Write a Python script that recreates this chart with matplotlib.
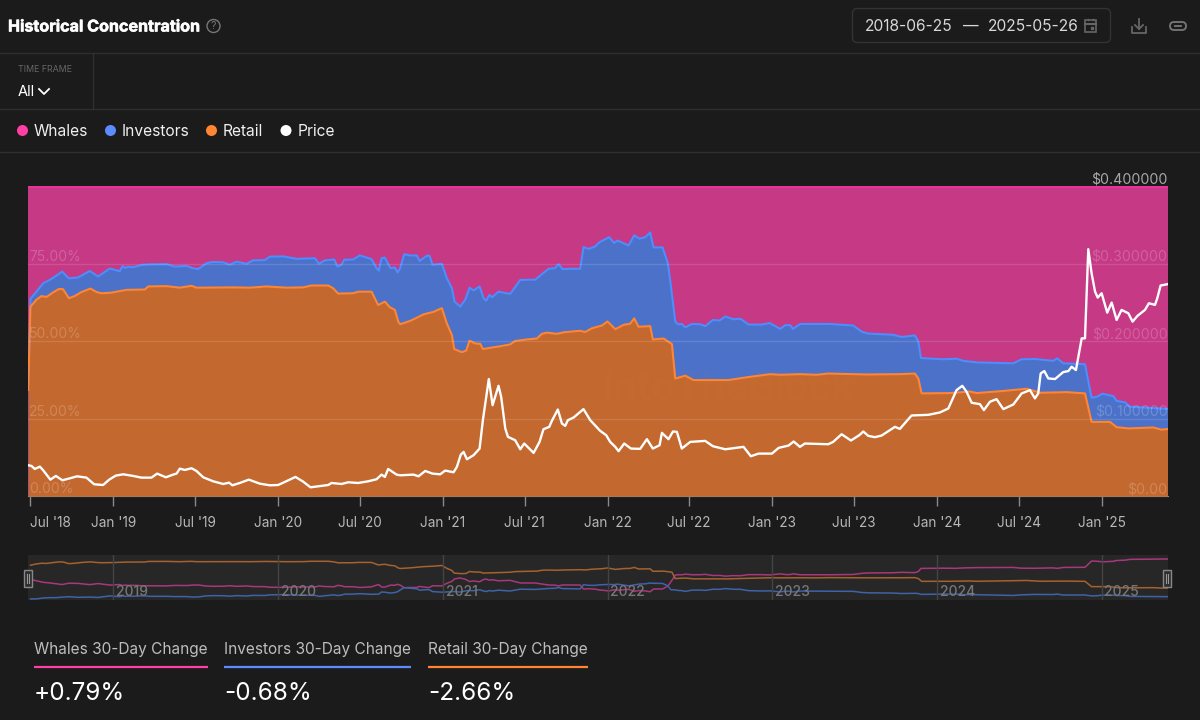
import numpy as np
import matplotlib
matplotlib.use("Agg")
import matplotlib.pyplot as plt
import matplotlib.patheffects as pe
from matplotlib.patches import Circle, FancyBboxPatch, Rectangle

plt.rcParams['font.family'] = ['Inter', 'DejaVu Sans']

# dates are decimal years, shares in percent, price in dollars
retail_year = [2018.482, 2018.496, 2018.532, 2018.563, 2018.593, 2018.634, 2018.670, 2018.694, 2018.729, 2018.765,
               2018.806, 2018.860, 2018.897, 2018.927, 2018.988, 2019.079, 2019.190, 2019.211, 2019.322, 2019.403,
               2019.474, 2019.504, 2019.727, 2019.828, 2019.929, 2020.051, 2020.152, 2020.202, 2020.304, 2020.334,
               2020.364, 2020.455, 2020.486, 2020.567, 2020.607, 2020.648, 2020.678, 2020.709, 2020.729, 2020.741,
               2020.802, 2020.842, 2020.883, 2020.943, 2020.994, 2021.024, 2021.055, 2021.069, 2021.115, 2021.142,
               2021.162, 2021.196, 2021.227, 2021.243, 2021.287, 2021.348, 2021.409, 2021.439, 2021.510, 2021.571,
               2021.601, 2021.632, 2021.692, 2021.733, 2021.834, 2021.864, 2021.905, 2021.966, 2022.000, 2022.047,
               2022.097, 2022.138, 2022.162, 2022.188, 2022.259, 2022.275, 2022.340, 2022.391, 2022.411, 2022.472,
               2022.522, 2022.644, 2022.735, 2022.846, 2022.988, 2023.049, 2023.168, 2023.269, 2023.340, 2023.573,
               2023.775, 2023.866, 2023.887, 2023.907, 2024.079, 2024.200, 2024.241, 2024.383, 2024.545, 2024.626,
               2024.787, 2024.899, 2024.939, 2025.051, 2025.091, 2025.162, 2025.314, 2025.364, 2025.400]
retail_share = [34.2, 61.1, 63.3, 64.5, 64.2, 65.7, 66.8, 66.7, 63.8, 64.5,
                65.8, 66.9, 65.8, 65.4, 65.6, 66.5, 66.6, 67.6, 67.7, 67.2,
                67.8, 67.2, 67.3, 67.2, 67.6, 67.2, 67.3, 67.9, 67.9, 67.0,
                65.3, 65.4, 65.9, 65.9, 61.6, 62.7, 60.9, 60.0, 56.3, 55.4,
                56.5, 57.5, 58.6, 59.4, 60.6, 55.7, 51.9, 47.4, 46.4, 46.9,
                50.1, 49.2, 49.1, 47.4, 47.8, 48.3, 48.9, 50.0, 50.5, 50.8,
                52.3, 52.7, 52.3, 52.8, 53.3, 52.9, 54.1, 55.0, 56.3, 53.8,
                55.2, 55.6, 57.3, 54.6, 54.8, 50.5, 50.8, 49.0, 37.9, 38.8,
                37.4, 37.4, 37.4, 38.3, 39.3, 39.1, 39.3, 39.1, 39.5, 39.2,
                39.3, 39.5, 37.9, 33.1, 33.2, 33.7, 33.2, 33.8, 34.6, 33.3,
                33.5, 33.1, 23.9, 23.9, 22.2, 21.8, 22.1, 21.4, 21.6]

# retail + investors, the boundary with the whales band
stack_year = [2018.482, 2018.496, 2018.532, 2018.573, 2018.613, 2018.654, 2018.688, 2018.729, 2018.785, 2018.856,
              2018.907, 2018.978, 2019.038, 2019.055, 2019.071, 2019.089, 2019.119, 2019.180, 2019.221, 2019.322,
              2019.372, 2019.443, 2019.480, 2019.514, 2019.565, 2019.605, 2019.666, 2019.706, 2019.747, 2019.808,
              2019.848, 2019.919, 2019.949, 2020.030, 2020.111, 2020.223, 2020.249, 2020.283, 2020.340, 2020.360,
              2020.385, 2020.401, 2020.455, 2020.496, 2020.567, 2020.597, 2020.611, 2020.628, 2020.648, 2020.682,
              2020.709, 2020.725, 2020.741, 2020.765, 2020.802, 2020.842, 2020.858, 2020.903, 2020.919, 2020.937,
              2020.994, 2021.024, 2021.055, 2021.071, 2021.105, 2021.136, 2021.162, 2021.186, 2021.223, 2021.247,
              2021.263, 2021.283, 2021.298, 2021.338, 2021.409, 2021.470, 2021.561, 2021.642, 2021.682, 2021.702,
              2021.727, 2021.773, 2021.834, 2021.854, 2021.885, 2021.925, 2021.949, 2022.010, 2022.040, 2022.061,
              2022.128, 2022.162, 2022.194, 2022.229, 2022.259, 2022.279, 2022.334, 2022.366, 2022.385, 2022.411,
              2022.427, 2022.451, 2022.472, 2022.512, 2022.563, 2022.593, 2022.640, 2022.680, 2022.715, 2022.765,
              2022.806, 2022.856, 2022.937, 2022.984, 2023.049, 2023.079, 2023.109, 2023.126, 2023.170, 2023.350,
              2023.492, 2023.543, 2023.583, 2023.735, 2023.785, 2023.866, 2023.887, 2023.903, 2024.038, 2024.119,
              2024.160, 2024.241, 2024.464, 2024.514, 2024.595, 2024.706, 2024.731, 2024.767, 2024.899, 2024.939,
              2024.970, 2025.006, 2025.071, 2025.091, 2025.142, 2025.172, 2025.400]
stack_share = [34.5, 63.6, 65.9, 68.6, 69.7, 71.1, 72.4, 70.2, 70.5, 72.6,
               70.8, 73.4, 72.5, 74.2, 73.5, 74.0, 73.8, 74.6, 74.7, 74.8,
               74.0, 74.2, 73.5, 73.2, 75.1, 75.5, 75.4, 74.6, 75.6, 74.9,
               76.0, 76.1, 77.2, 77.3, 76.5, 76.7, 74.9, 76.0, 76.3, 74.0,
               74.6, 76.2, 76.3, 77.6, 76.4, 73.5, 72.7, 76.7, 76.9, 73.5,
               73.7, 72.1, 73.5, 78.0, 77.6, 77.6, 75.8, 77.5, 77.5, 74.6,
               74.9, 70.3, 67.0, 62.7, 61.1, 63.3, 67.2, 66.3, 67.6, 63.8,
               63.0, 64.9, 64.1, 65.9, 65.2, 69.7, 69.8, 73.3, 73.5, 74.8,
               73.2, 73.3, 73.3, 80.3, 79.7, 80.5, 81.8, 83.5, 81.6, 82.4,
               80.8, 84.1, 83.0, 83.5, 85.0, 80.2, 80.2, 75.1, 67.6, 56.3,
               55.4, 55.5, 54.4, 55.5, 55.4, 54.8, 56.8, 56.6, 57.9, 57.0,
               57.2, 55.3, 55.3, 55.8, 53.9, 55.1, 55.1, 53.9, 55.5, 55.5,
               55.0, 53.0, 52.4, 52.0, 51.3, 51.8, 49.8, 44.5, 44.1, 44.3,
               43.6, 43.1, 42.8, 44.1, 44.2, 43.6, 44.4, 42.8, 42.5, 31.7,
               32.0, 33.0, 32.2, 30.7, 30.2, 28.8, 28.1]

price_year = [2018.482, 2018.502, 2018.522, 2018.553, 2018.573, 2018.617, 2018.650, 2018.690, 2018.735, 2018.779,
              2018.836, 2018.883, 2018.937, 2018.974, 2019.014, 2019.059, 2019.119, 2019.170, 2019.231, 2019.265,
              2019.318, 2019.362, 2019.383, 2019.403, 2019.433, 2019.474, 2019.504, 2019.545, 2019.605, 2019.666,
              2019.702, 2019.722, 2019.767, 2019.822, 2019.889, 2019.949, 2020.000, 2020.040, 2020.105, 2020.152,
              2020.196, 2020.304, 2020.324, 2020.385, 2020.425, 2020.486, 2020.547, 2020.597, 2020.628, 2020.648,
              2020.668, 2020.719, 2020.741, 2020.822, 2020.852, 2020.893, 2020.937, 2020.984, 2021.014, 2021.065,
              2021.085, 2021.109, 2021.126, 2021.146, 2021.186, 2021.223, 2021.243, 2021.279, 2021.302, 2021.338,
              2021.354, 2021.379, 2021.395, 2021.439, 2021.470, 2021.494, 2021.551, 2021.587, 2021.611, 2021.646,
              2021.662, 2021.698, 2021.723, 2021.743, 2021.759, 2021.794, 2021.854, 2021.895, 2021.955, 2021.992,
              2022.016, 2022.047, 2022.067, 2022.101, 2022.142, 2022.198, 2022.239, 2022.275, 2022.316, 2022.330,
              2022.370, 2022.397, 2022.421, 2022.451, 2022.502, 2022.593, 2022.640, 2022.715, 2022.826, 2022.870,
              2022.917, 2022.998, 2023.039, 2023.099, 2023.130, 2023.168, 2023.198, 2023.340, 2023.370, 2023.421,
              2023.478, 2023.528, 2023.553, 2023.583, 2023.623, 2023.664, 2023.745, 2023.775, 2023.846, 2023.907,
              2023.947, 2024.018, 2024.069, 2024.119, 2024.154, 2024.180, 2024.211, 2024.261, 2024.285, 2024.322,
              2024.362, 2024.403, 2024.464, 2024.514, 2024.565, 2024.595, 2024.615, 2024.630, 2024.652, 2024.676,
              2024.717, 2024.767, 2024.798, 2024.818, 2024.844, 2024.879, 2024.899, 2024.919, 2024.939, 2024.960,
              2024.976, 2025.000, 2025.034, 2025.061, 2025.091, 2025.121, 2025.162, 2025.188, 2025.217, 2025.263,
              2025.287, 2025.324, 2025.338, 2025.358, 2025.400]
price_usd = [.0397, .0388, .0349, .0379, .0332, .0211, .0259, .0203, .0228, .0254,
             .0237, .0151, .0142, .0211, .0263, .0280, .0259, .0237, .0237, .0289,
             .0241, .0276, .0289, .0353, .0336, .0358, .0323, .0241, .0190, .0155,
             .0172, .0138, .0168, .0211, .0159, .0138, .0142, .0181, .0246, .0185,
             .0112, .0142, .0168, .0155, .0177, .0168, .0190, .0216, .0276, .0246,
             .0349, .0276, .0267, .0276, .0254, .0323, .0289, .0280, .0328, .0306,
             .0375, .0534, .0569, .0474, .0526, .0612, .0978, .1509, .1172, .1422,
             .1280, .0871, .0763, .0720, .0603, .0677, .0556, .0698, .0862, .0892,
             .0970, .1116, .0935, .0905, .0978, .1013, .1121, .0978, .0841, .0784,
             .0698, .0634, .0578, .0677, .0612, .0608, .0733, .0612, .0655, .0815,
             .0733, .0832, .0828, .0612, .0698, .0711, .0642, .0603, .0634, .0513,
             .0547, .0547, .0621, .0651, .0703, .0634, .0677, .0668, .0698, .0797,
             .0716, .0784, .0832, .0776, .0759, .0780, .0892, .0866, .1039, .1043,
             .1047, .1078, .1129, .1366, .1422, .1345, .1203, .1185, .1108, .1216,
             .1250, .1121, .1181, .1323, .1366, .1259, .1323, .1582, .1612, .1517,
             .1509, .1599, .1612, .1668, .1625, .2034, .2034, .3185, .2875, .2638,
             .2560, .2616, .2366, .2496, .2272, .2401, .2358, .2250, .2323, .2401,
             .2487, .2466, .2552, .2716, .2733]

tick_years = [2018.496, 2019, 2019.496, 2020, 2020.496, 2021, 2021.496, 2022, 2022.496, 2023, 2023.496, 2024,
              2024.496, 2025]
tick_labels = ["Jul '18", "Jan '19", "Jul '19", "Jan '20", "Jul '20", "Jan '21", "Jul '21", "Jan '22", "Jul '22",
               "Jan '23", "Jul '23", "Jan '24", "Jul '24", "Jan '25"]
share_ticks = [0, 25, 50, 75]
share_labels = ['0.00%', '25.00%', '50.00%', '75.00%']
price_ticks = [0, 0.1, 0.2, 0.3, 0.4]
price_labels = ['$0.00', '$0.100000', '$0.200000', '$0.300000', '$0.400000']
nav_years = [2019, 2020, 2021, 2022, 2023, 2024, 2025]
legend_names = ['Whales', 'Investors', 'Retail', 'Price']
change_names = ['Whales 30-Day Change', 'Investors 30-Day Change', 'Retail 30-Day Change']
change_values = ['+0.79%', '-0.68%', '-2.66%']

BG = '#1b1b1b'
RULE = '#2f2f2f'
PINK, BLUE, ORANGE = '#ff3fa4', '#5b8cff', '#ff8533'
XMIN, XMAX = 2018.481, 2025.400
W, H = 1200, 720


def px_axes(left, top, right, bottom, **kw):
    return fig.add_axes([left / W, 1 - bottom / H, (right - left) / W, (bottom - top) / H], **kw)


fig = plt.figure(figsize=(12, 7.2), dpi=100, facecolor=BG)

# page furniture is laid out in pixels on a full-size overlay
ui = fig.add_axes([0, 0, 1, 1], zorder=5)
ui.set_xlim(0, W)
ui.set_ylim(H, 0)
ui.axis('off')

for y in [53, 109, 152]:
    ui.plot([0, W], [y, y], color=RULE, lw=1)
ui.plot([93, 93], [53, 109], color=RULE, lw=1)

ui.text(8, 27, 'Historical Concentration', color='white', fontsize=11.6, fontweight='bold', va='center',
        path_effects=[pe.withStroke(linewidth=0.4, foreground='white')])
ui.add_patch(Circle((213.5, 26), 6.5, fill=False, ec='#777777', lw=1))
ui.text(213.5, 26.2, '?', color='#777777', fontsize=7.5, ha='center', va='center')
ui.text(18, 69.5, 'TIME FRAME', color='#666666', fontsize=6.4, va='center')
ui.text(18, 92, 'All', color='white', fontsize=10.5, va='center')
ui.plot([39, 44, 49], [89, 94, 89], color='white', lw=1.3)

# date range box and icons
ui.add_patch(FancyBboxPatch((852.5, 8.5), 258, 34, boxstyle='round,pad=0,rounding_size=5', fill=False,
                            ec='#333333', lw=1))
ui.text(865, 26.5, '2018-06-25', color='#d8d8d8', fontsize=11.2, va='center')
ui.text(971, 26.5, '—', color='#d8d8d8', fontsize=11.2, va='center', ha='center')
ui.text(988, 26.5, '2025-05-26', color='#d8d8d8', fontsize=11.2, va='center')
ui.add_patch(Rectangle((1085, 20), 11, 12, fill=False, ec='#666666', lw=1.2))
ui.plot([1085, 1096], [23.5, 23.5], color='#666666', lw=1.5)
ui.plot([1088, 1088], [18.5, 20], color='#666666', lw=1)
ui.plot([1093, 1093], [18.5, 20], color='#666666', lw=1)
ui.add_patch(Rectangle((1090.5, 26.5), 2.5, 2.5, color='#666666'))
ui.plot([1132, 1132, 1146, 1146], [27, 33, 33, 27], color='#666666', lw=1.3)
ui.plot([1139, 1139], [19, 29], color='#666666', lw=1.3)
ui.plot([1135, 1139, 1143], [25, 29, 25], color='#666666', lw=1.3)
ui.plot([1175, 1181], [26, 26], color='#777777', lw=1.3)
ui.add_patch(FancyBboxPatch((1170, 22), 16, 8, boxstyle='round,pad=0,rounding_size=4', fill=False,
                            ec='#777777', lw=1.3))

# legend row
for dot_x, name, col in zip([22.5, 110.5, 211.5, 286], legend_names, [PINK, BLUE, ORANGE, 'white']):
    ui.add_patch(Circle((dot_x, 130.5), 5.5, color=col, lw=0))
    ui.text(dot_x + 11.5, 131.5, name, color='#f0f0f0', fontsize=11.2, va='center')

# main stacked chart: each band is painted from its upper boundary down to zero
ax = px_axes(28, 186, 1167.5, 496, zorder=2)
ax.set_xlim(XMIN, XMAX)
ax.set_ylim(0, 100)
ax.set_facecolor('#c53985')
ax.fill_between(stack_year, 0, stack_share, color='#4b71c8', lw=0, zorder=2)
ax.fill_between(retail_year, 0, retail_share, color='#c3682f', lw=0, zorder=3)
ax.plot(stack_year, stack_share, color='#4c8dff', lw=1.5, zorder=4)
ax.plot(retail_year, retail_share, color='#ff8533', lw=1.5, zorder=5)
ax.axhline(100, color='#e8359a', lw=2, zorder=6)
for v in [25, 50, 75]:
    ax.axhline(v, color='white', alpha=0.13, lw=1, zorder=6)

ax.text(0.615, 0.345, 'IntoTheBlock', transform=ax.transAxes, color='#e08a40', alpha=0.05, fontsize=28,
        fontweight='bold', ha='center', va='center', zorder=6)

for v, lab in zip(share_ticks, share_labels):
    ax.annotate(lab, (XMIN, v), xytext=(0.7, 4.8), textcoords='offset points', color='white', alpha=0.2,
                fontsize=10, va='center', zorder=7)

ax.set_xticks(tick_years, tick_labels)
ax.set_yticks([])
ax.tick_params(axis='x', length=7.2, width=1, color='#8a8a8a', labelcolor='#b8b8b8', labelsize=9.8, pad=7.5)
ax.get_xticklabels()[0].set_horizontalalignment('left')
for side in ['top', 'left', 'right']:
    ax.spines[side].set_visible(False)
ax.spines['bottom'].set_color('#8a8a8a')

# price sits on its own dollar scale
ax_price = ax.twinx()
ax_price.set_zorder(3)
ax_price.patch.set_visible(False)
ax_price.set_ylim(0, 0.4)
ax_price.set_xlim(XMIN, XMAX)
ax_price.plot(price_year, price_usd, color='white', lw=1.7, solid_joinstyle='round')
ax_price.set_yticks([])
for side in ax_price.spines.values():
    side.set_visible(False)
for v, lab in zip(price_ticks, price_labels):
    top = v == 0.4
    ax_price.annotate(lab, (XMAX, v), xytext=(0, 4.8), textcoords='offset points', ha='right', va='center',
                      color='#a8a8a8' if top else 'white', alpha=1 if top else 0.2, fontsize=10.2,
                      annotation_clip=False)

# navigator strip under the chart
nav = px_axes(28, 555, 1167.5, 600.4, zorder=2)
nav.set_xlim(XMIN, XMAX)
nav.set_ylim(0, 78.8)
nav.set_facecolor('#272727')
stack_arr = np.array(stack_share)
whales = 100 - stack_arr
investors = stack_arr - np.interp(stack_year, retail_year, retail_share)
nav.plot(stack_year[1:], whales[1:], color='#a8387c', lw=1.1)
nav.plot(stack_year[1:], investors[1:], color='#3f62a8', lw=1.1)
nav.plot(retail_year[1:], retail_share[1:], color='#a5612e', lw=1.1)
for yr in nav_years:
    nav.axvline(yr, color='#444444', lw=1)
    nav.annotate(str(yr), (yr, 0), xytext=(2, 6.3), textcoords='offset points', color='#777777', fontsize=10,
                 fontweight='medium', va='center', annotation_clip=False)
nav.set_xticks([])
nav.set_yticks([])
for side in nav.spines.values():
    side.set_visible(False)

# navigator handles
for hx in [28, 1167]:
    ui.add_patch(Rectangle((hx - 4, 570), 8, 17, fc='#2e2e2e', ec='#888888', lw=1))
    ui.plot([hx - 1, hx - 1], [574, 583], color='#999999', lw=0.8)
    ui.plot([hx + 1, hx + 1], [574, 583], color='#999999', lw=0.8)

# 30-day change cards
card_spans = [(34, 208), (224, 411), (428, 588)]
for (x0, x1), name, val, col in zip(card_spans, change_names, change_values, [PINK, BLUE, ORANGE]):
    ui.text(x0, 649.5, name, color='#bdbdbd', fontsize=11.1, va='center')
    ui.plot([x0, x1], [667, 667], color=col, lw=1.6, solid_capstyle='butt')
    ui.text(x0, 693, val, color='white', fontsize=17.5, va='center')

fig.savefig('out.png', dpi=100, facecolor=BG)
